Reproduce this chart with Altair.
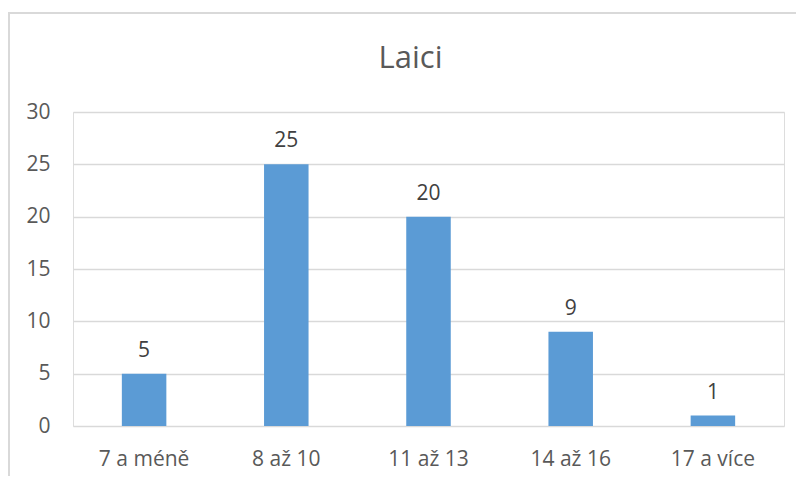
import altair as alt
import pandas as pd

categories = ["7 a méně", "8 až 10", "11 až 13", "14 až 16", "17 a více"]
values = [5, 25, 20, 9, 1]
y_ticks = [0, 5, 10, 15, 20, 25, 30]

df = pd.DataFrame({"kat": categories, "pocet": values})

FONT = "Open Sans"

x_enc = alt.X(
    "kat:N",
    sort=categories,
    title=None,
    scale=alt.Scale(paddingInner=0.687, paddingOuter=0.3435),
    axis=alt.Axis(labelAngle=0, domain=False, ticks=False, labelPadding=22,
                  labelFontSize=21, labelColor="#595959", labelFont=FONT, grid=False),
)
y_enc = alt.Y(
    "pocet:Q",
    title=None,
    scale=alt.Scale(domain=[0, 30], nice=False),
    axis=alt.Axis(values=y_ticks, domain=False, ticks=False, labelPadding=23,
                  labelFontSize=21, labelColor="#595959", labelFont=FONT,
                  gridColor="#D9D9D9", gridWidth=1.4),
)

frame = alt.Chart(alt.Data(values=[{"a": 1}])).mark_rect(
    fill="transparent", stroke="#D9D9D9", strokeWidth=2
).encode(
    x=alt.value(-64), x2=alt.value(745), y=alt.value(-99), y2=alt.value(380)
)

bars = alt.Chart(df).mark_bar(color="#5B9BD5").encode(x=x_enc, y=y_enc)

labels = alt.Chart(df).mark_text(
    baseline="alphabetic", dy=-17, fontSize=21, color="#404040", font=FONT
).encode(x=alt.X("kat:N", sort=categories), y=alt.Y("pocet:Q"), text="pocet:Q")

chart = alt.layer(frame, bars, labels).properties(
    width=711,
    height=314,
    autosize=alt.AutoSizeParams(type="none"),
    padding={"left": 65, "top": 104, "right": 12, "bottom": 50},
    title=alt.Title("Laici", fontSize=31, font=FONT, color="#595959",
                    fontWeight="normal", anchor="middle", frame="group",
                    baseline="alphabetic", offset=-56, dx=-18, dy=31),
).configure_view(stroke=None).configure(background="white")

chart.save("out.html", embed_options={"renderer": "svg", "actions": False})
